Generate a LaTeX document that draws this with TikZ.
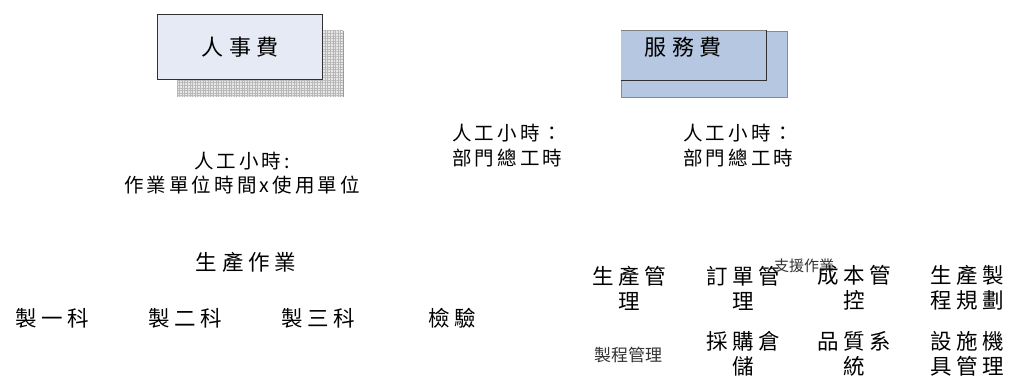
\documentclass[tikz,border=0pt]{standalone}
\usepackage{fontspec}
\newfontfamily\tc{Noto Sans CJK TC}
\newfontfamily\tcs{Noto Sans CJK TC}[LetterSpace=16]
\newfontfamily\tcw{Noto Sans CJK TC}[LetterSpace=22]
\newfontfamily\tcb{Noto Sans CJK TC}[LetterSpace=25]
\usetikzlibrary{patterns.meta}
\definecolor{lav}{HTML}{E6EAF5}
\definecolor{svc}{HTML}{B6C8E1}
\definecolor{edge}{HTML}{303030}
\tikzset{
  txt/.style={inner sep=0pt, align=center, font=\tcs\fontsize{19.5}{24.5}\selectfont},
  txtl/.style={inner sep=0pt, align=left, anchor=west, font=\tcs\fontsize{19.5}{25}\selectfont},
  grd/.style={inner sep=0pt, align=center, font=\tcw\fontsize{21.5}{25}\selectfont},
  big/.style={inner sep=0pt, font=\tcb\fontsize{22}{26}\selectfont},
  small/.style={inner sep=0pt, text=black!80, font=\tc\fontsize{15}{17}\selectfont},
}
\begin{document}
\begin{tikzpicture}[x=1pt,y=-1pt]
\useasboundingbox (0,0) rectangle (1011,379);
% 人事費
\fill[black!9] (177,31) rectangle (343,97);
\fill[pattern={Hatch[angle=0,distance=2.6pt,line width=0.4pt]}, pattern color=black!28] (177,31) rectangle (343,97);
\draw[black!40, line width=0.6pt] (343,31) -- (343,97);
\node[draw=edge, line width=1.2pt, fill=lav, minimum width=165pt, minimum height=65pt, anchor=north west] (rs) at (157,14) {};
\node[big] (rst) at (rs.center) {人事費};
% 服務費
\node[fill=svc, draw=svc!70!black, line width=0.5pt, minimum width=166pt, minimum height=66pt, anchor=north west] (fwb) at (621,31) {};
\node[fill=svc, minimum width=145pt, minimum height=50pt, anchor=north west, inner sep=0pt] (fw) at (621,30) {};
\draw[edge, line width=1.2pt] (fw.north east) -- (fw.south east) -- (fw.south west);
\draw[black!50, line width=0.6pt] (fw.north west) -- (fw.north east);
\node[big] (fwt) at (683,47) {服務費};
% labels
\node[txt] (l1) at (242,173) {人工小時:\\作業單位時間x使用單位};
\node[txtl] (l2) at (452,146) {人工小時：\\部門總工時};
\node[txtl] (l3) at (683,146) {人工小時：\\部門總工時};
% 生產作業
\node[grd] (sc) at (246,262) {生產作業};
\node[grd] (d1) at (52,318) {製一科};
\node[grd] (d2) at (185,318) {製二科};
\node[grd] (d3) at (318,318) {製三科};
\node[grd] (d4) at (452,318) {檢驗};
% 支援作業
\node[grd] (g1) at (629,288) {生產管\\理};
\node[grd] (g2) at (743,288) {訂單管\\理};
\node[grd] (g3) at (854,288) {成本管\\控};
\node[grd] (g4) at (967,288) {生產製\\程規劃};
\node[grd] (g5) at (743,354) {採購倉\\儲};
\node[grd] (g6) at (854,354) {品質系\\統};
\node[grd] (g7) at (967,354) {設施機\\具管理};
\node[small] (zy) at (804,266) {支援作業};
\node[small, font=\tc\fontsize{17}{19}\selectfont] (zc) at (628,355) {製程管理};
\end{tikzpicture}
\end{document}
